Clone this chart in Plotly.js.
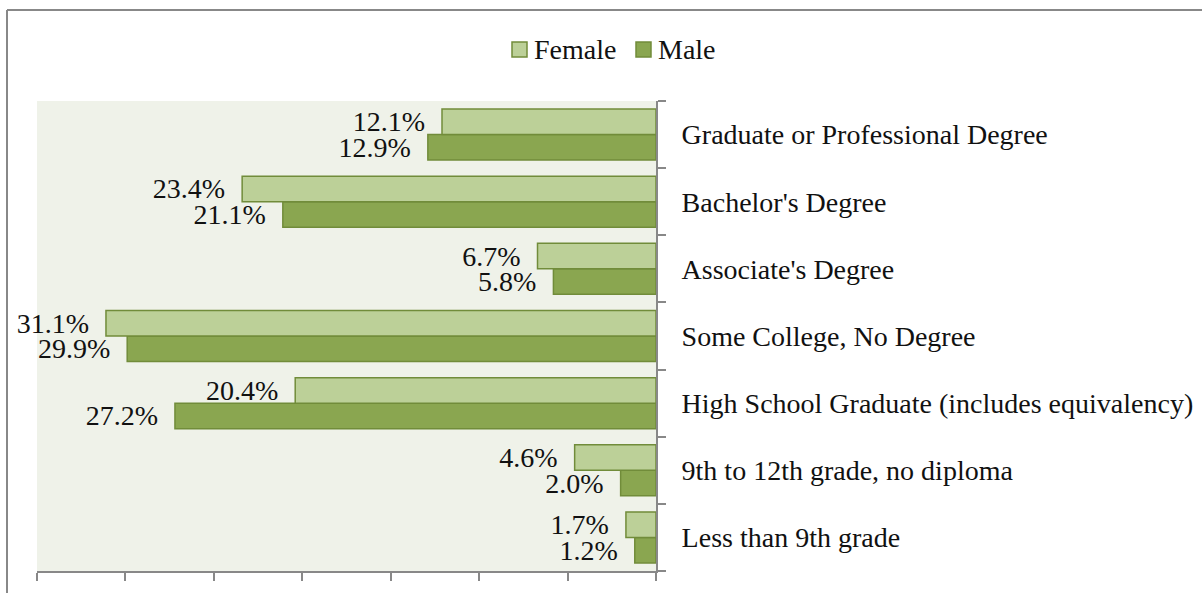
<!DOCTYPE html>
<html>
<head>
<meta charset="utf-8">
<script src="https://cdn.plot.ly/plotly-3.0.1.min.js"></script>
<style>
html,body{margin:0;padding:0;background:#fff;}
#chart{width:1202px;height:593px;}
</style>
</head>
<body>
<div id="chart"></div>
<script>
// Categories listed bottom-to-top
const categories = [
  "Less than 9th grade",
  "9th to 12th grade, no diploma",
  "High School Graduate (includes equivalency)",
  "Some College, No Degree",
  "Associate's Degree",
  "Bachelor's Degree",
  "Graduate or Professional Degree"
];
const female = [1.7, 4.6, 20.4, 31.1, 6.7, 23.4, 12.1];
const male   = [1.2, 2.0, 27.2, 29.9, 5.8, 21.1, 12.9];
const seriesNames = ["Female", "Male"];
const seriesColors = ["#BCD098", "#8AA650"];

const FONT = "Liberation Serif, Times New Roman, serif";
const FS = 28;
const outline = "#718C3A";
const labelTpl = "%{x:.1f}%\u00a0\u00a0";

function barTrace(name, vals, color) {
  return {
    type: "bar", orientation: "h", name: name,
    y: categories, x: vals,
    marker: {color: color, line: {color: outline, width: 1.5}},
    texttemplate: labelTpl, textposition: "outside",
    constraintext: "none", cliponaxis: false,
    textfont: {family: FONT, size: FS, color: "#111"},
    hoverinfo: "skip", showlegend: false
  };
}
// Male first so that Female is drawn above it within each group
const traces = [
  barTrace(seriesNames[1], male, seriesColors[1]),
  barTrace(seriesNames[0], female, seriesColors[0])
];

const L = 37, R = 656, T = 101, B = 571, W = 1202, H = 593;
const px2x = p => (p - L) / (R - L);
const px2y = p => (B - p) / (B - T);

// manual legend (Female, Male)
const legendBoxX = [512, 636];
const legendY0 = 42, legendY1 = 57;
const shapes = [
  {type: "line", xref: "paper", yref: "paper",
   x0: px2x(7), x1: px2x(1210), y0: px2y(10), y1: px2y(10),
   line: {color: "#888", width: 2}},
  {type: "line", xref: "paper", yref: "paper",
   x0: px2x(7), x1: px2x(7), y0: px2y(10), y1: px2y(600),
   line: {color: "#888", width: 2}}
];
const annotations = [];
seriesNames.forEach((n, i) => {
  shapes.push({type: "rect", xref: "paper", yref: "paper",
    x0: px2x(legendBoxX[i]), x1: px2x(legendBoxX[i] + 15),
    y0: px2y(legendY1), y1: px2y(legendY0),
    fillcolor: seriesColors[i], line: {color: outline, width: 1.5}});
  annotations.push({xref: "paper", yref: "paper",
    x: px2x(legendBoxX[i] + 20), y: px2y(49.5),
    xanchor: "left", yanchor: "middle", showarrow: false,
    text: n, font: {family: FONT, size: FS, color: "#111"}});
});

const layout = {
  width: W, height: H,
  margin: {l: L, r: W - R, t: T, b: H - B, pad: 0},
  paper_bgcolor: "#ffffff",
  plot_bgcolor: "#EFF2E9",
  barmode: "group",
  bargap: 0.24,
  bargroupgap: 0,
  font: {family: FONT, size: FS, color: "#111"},
  showlegend: false,
  xaxis: {
    range: [35, 0], dtick: 5, tick0: 0,
    showticklabels: false, showgrid: false, zeroline: false,
    ticks: "outside", ticklen: 8, tickwidth: 2, tickcolor: "#888",
    showline: true, linecolor: "#888", linewidth: 2,
    fixedrange: true
  },
  yaxis: {
    side: "right", type: "category",
    categoryorder: "array", categoryarray: categories,
    showgrid: false, zeroline: false,
    ticks: "outside", tickson: "boundaries", ticklen: 8, tickwidth: 2, tickcolor: "#888",
    showline: true, linecolor: "#888", linewidth: 2,
    ticklabelstandoff: 18,
    tickfont: {family: FONT, size: FS, color: "#111"},
    fixedrange: true
  },
  shapes: shapes,
  annotations: annotations
};

Plotly.newPlot("chart", traces, layout, {displayModeBar: false, staticPlot: true});
</script>
</body>
</html>
